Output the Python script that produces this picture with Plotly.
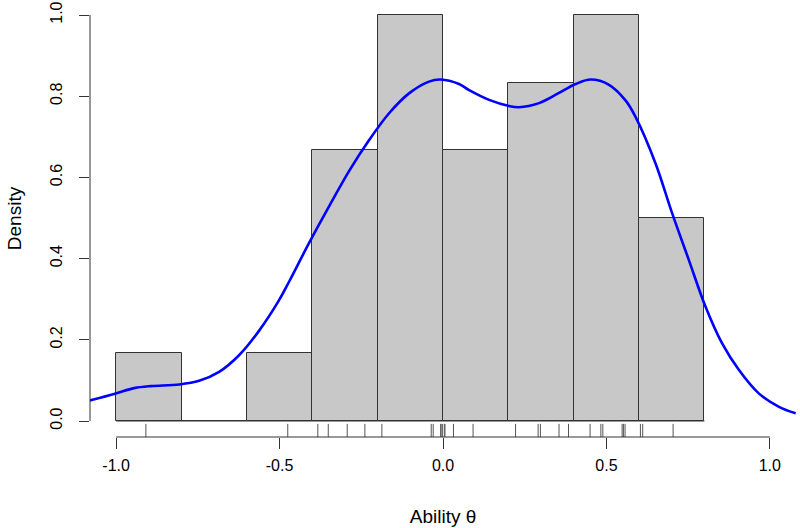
import numpy as np
import plotly.graph_objects as go

# histogram bins (density scale)
bin_edges = [-1.0, -0.8, -0.6, -0.4, -0.2, 0.0, 0.2, 0.4, 0.6, 0.8]
bin_density = [0.1667, 0.0, 0.1667, 0.6667, 1.0, 0.6667, 0.8333, 1.0, 0.5]

# observed abilities (rug)
theta_obs = [-0.909, -0.475, -0.383, -0.351, -0.293, -0.239,
             -0.187, -0.036, -0.030, -0.007, -0.006, -0.002,
             0.004, 0.006, 0.032, 0.092,
             0.222, 0.291, 0.298, 0.355, 0.384,
             0.450, 0.483, 0.489, 0.548, 0.552, 0.557,
             0.604, 0.611, 0.704]

# density curve
dens_x = [-1.083, -1.001, -0.945, -0.894, -0.807, -0.746, -0.685, -0.624, -0.563,
          -0.502, -0.471, -0.410, -0.349, -0.287, -0.226, -0.165, -0.104, -0.043,
          -0.007, 0.049, 0.080, 0.141, 0.202, 0.232, 0.294, 0.355, 0.406, 0.452,
          0.508, 0.559, 0.589, 0.650, 0.701, 0.752, 0.803, 0.854, 0.905, 0.966,
          1.028, 1.079]
dens_y = [0.050, 0.068, 0.081, 0.086, 0.090, 0.099, 0.121, 0.162, 0.222,
          0.297, 0.343, 0.438, 0.528, 0.616, 0.692, 0.758, 0.807, 0.836,
          0.841, 0.830, 0.815, 0.791, 0.776, 0.773, 0.783, 0.808, 0.830, 0.841,
          0.828, 0.789, 0.749, 0.635, 0.512, 0.397, 0.282, 0.191, 0.126, 0.068,
          0.035, 0.019]

x_ticks = [-1.0, -0.5, 0.0, 0.5, 1.0]
y_ticks = [0.0, 0.2, 0.4, 0.6, 0.8, 1.0]

x_range = [-1.08, 1.08]
y_range = [-0.0394, 1.037]

edges = np.array(bin_edges)
mids = (edges[:-1] + edges[1:]) / 2
widths = np.diff(edges)

fig = go.Figure()

fig.add_trace(go.Bar(x=mids, y=bin_density, width=widths,
                     marker=dict(color='#c8c8c8', line=dict(color='#333333', width=1))))

# baseline under the bins (shows through empty bins, like R's hist)
fig.add_shape(type='line', xref='x', yref='y', x0=bin_edges[0], x1=bin_edges[-1], y0=0, y1=0,
              line=dict(color='#333333', width=1))

# rug
rug_lo = y_range[0]
rug_hi = y_range[0] + 0.03 * (y_range[1] - y_range[0])
rx, ry = [], []
for v in theta_obs:
    rx += [v, v, None]
    ry += [rug_lo, rug_hi, None]
fig.add_trace(go.Scatter(x=rx, y=ry, mode='lines',
                         line=dict(color='#555555', width=1), hoverinfo='skip'))

fig.add_trace(go.Scatter(x=dens_x, y=dens_y, mode='lines',
                         line=dict(color='#0000ff', width=2.6, shape='spline', smoothing=1.0)))

# R-style detached axis lines
fig.add_shape(type='line', xref='x', yref='paper', x0=x_ticks[0], x1=x_ticks[-1], y0=0, y1=0,
              line=dict(color='#333333', width=1))
fig.add_shape(type='line', xref='paper', yref='y', x0=0, x1=0, y0=y_ticks[0], y1=y_ticks[-1],
              line=dict(color='#333333', width=1))

font = dict(family='Liberation Sans, Arial, sans-serif', size=16, color='#000000')

fig.update_layout(
    width=800, height=528,
    margin=dict(l=90, r=4, t=0, b=91),
    plot_bgcolor='white', paper_bgcolor='white',
    showlegend=False, bargap=0, font=font,
    xaxis=dict(range=x_range, tickvals=x_ticks, ticktext=['-1.0', '-0.5', '0.0', '0.5', '1.0'],
               ticks='outside', ticklen=11, tickcolor='#333333', showgrid=False, zeroline=False,
               showline=False, ticklabelstandoff=3, title=dict(text='Ability θ', standoff=36)),
    yaxis=dict(range=y_range, tickvals=y_ticks, ticktext=['0.0', '0.2', '0.4', '0.6', '0.8', '1.0'],
               ticks='outside', ticklen=10, tickcolor='#333333', tickangle=-90, showgrid=False,
               zeroline=False, showline=False, ticklabelstandoff=11,
               title=dict(text='Density', standoff=20)),
)

fig.write_html("out.html", config={'displayModeBar': False},
               post_script="document.body.style.margin='0px';")
